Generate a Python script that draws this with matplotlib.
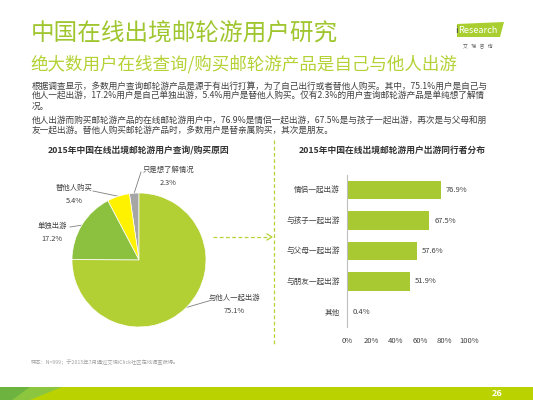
import numpy as np
import matplotlib
matplotlib.use('Agg')
import matplotlib.pyplot as plt
from matplotlib.patches import Polygon

plt.rcParams['font.family'] = ['Noto Sans CJK SC', 'DejaVu Sans']

# ---------------------------------------------------------------
# data
# ---------------------------------------------------------------
pie_labels = ['只是想了解情况', '替他人购买', '单独出游', '与他人一起出游']
pie_values = [2.3, 5.4, 17.2, 75.1]
pie_colors = ['#a6a6a6', '#fff200', '#8cc13f', '#b2cf33']

bar_labels = ['情侣一起出游', '与孩子一起出游', '与父母一起出游', '与朋友一起出游', '其他']
bar_values = [76.9, 67.5, 57.6, 51.9, 0.4]
x_ticks = [0, 20, 40, 60, 80, 100]

title = '中国在线出境邮轮游用户研究'
subtitle = '绝大数用户在线查询/购买邮轮游产品是自己与他人出游'
body = ['根据调查显示，多数用户查询邮轮游产品是源于有出行打算，为了自己出行或者替他人购买。其中，75.1%用户是自己与',
        '他人一起出游，17.2%用户是自己单独出游，5.4%用户是替他人购买。仅有2.3%的用户查询邮轮游产品是单纯想了解情',
        '况。',
        '他人出游而购买邮轮游产品的在线邮轮游用户中，76.9%是情侣一起出游，67.5%是与孩子一起出游，再次是与父母和朋',
        '友一起出游。替他人购买邮轮游产品时，多数用户是替亲属购买，其次是朋友。']
pie_title = '2015年中国在线出境邮轮游用户查询/购买原因'
bar_title = '2015年中国在线出境邮轮游用户出游同行者分布'
note = '样本：N=999；于2015年7月通过艾瑞iClick社区在线调查获得。'

W, H = 533, 400
txt = '#404040'

fig = plt.figure(figsize=(W / 100, H / 100), dpi=100)
fig.patch.set_facecolor('white')

def box(x0, y0, x1, y1):
    # pixel box (top-left origin) -> figure fraction rect
    return [x0 / W, 1 - y1 / H, (x1 - x0) / W, (y1 - y0) / H]

# background axes in pixel coordinates
bg = fig.add_axes([0, 0, 1, 1])
bg.set_xlim(0, W)
bg.set_ylim(H, 0)
bg.axis('off')

bg.text(31, 34, title, fontsize=17, color='#9fc62f', va='center', ha='left')
bg.text(30, 64, subtitle, fontsize=12.6, color='#b3d235', va='center', ha='left')
for y, line in zip([86, 96, 106, 120, 130], body):
    bg.text(32, y, line, fontsize=6.25, color=txt, va='center', ha='left')

# logo
bg.add_patch(Polygon([(457, 24), (504, 22), (500, 37), (457, 37)], closed=True,
                     facecolor='#a8cf2f', edgecolor='none'))
bg.text(455, 30.5, 'i', fontsize=6.8, color='#3a3a3a', va='center', ha='left')
bg.text(458.5, 30.5, 'Research', fontsize=6.6, color='white', va='center', ha='left')
bg.text(478, 47, '艾   瑞   咨   询', fontsize=3.5, color='#606060', va='center', ha='center')

# chart titles
bg.text(139, 151, pie_title, fontsize=6.3, color='#333333', weight='bold', ha='center', va='center')
bg.text(392, 150, bar_title, fontsize=6.3, color='#333333', weight='bold', ha='center', va='center')

# separator and arrow
bg.plot([274, 274], [140, 346], ls=(0, (3, 2)), color='#b5d334', lw=0.9)
bg.plot([213, 270], [237, 237], ls=(0, (3, 2)), color='#b5d334', lw=0.9)
bg.plot([267, 272, 267], [234, 237, 240], color='#b5d334', lw=0.9)

# note and footer
bg.text(31, 362, note, fontsize=3.8, color='#a0a0a0', va='center', ha='left')
bg.add_patch(Polygon([(0, 387), (W, 387), (W, 400), (0, 400)], facecolor='#bad300', edgecolor='none'))
bg.add_patch(Polygon([(0, 387), (62, 387), (30, 400), (0, 400)], facecolor='#8cc63f', edgecolor='none'))
bg.add_patch(Polygon([(0, 387), (30, 387), (12, 400), (0, 400)], facecolor='#6cb33f', edgecolor='none'))
bg.text(497, 393.5, '26', fontsize=6.5, color='white', weight='bold', ha='center', va='center')

# ---------------------------------------------------------------
# pie chart
# ---------------------------------------------------------------
cx, cy, r = 139, 260, 67
axp = fig.add_axes(box(cx - r, cy - r, cx + r, cy + r))
wedges, _ = axp.pie(pie_values, colors=pie_colors, startangle=90, counterclock=True,
                    wedgeprops=dict(edgecolor='white', linewidth=0.5))
axp.set_xlim(-1, 1)
axp.set_ylim(-1, 1)
axp.set_aspect('equal')
axp.axis('off')

# label positions (pixels): line end, text centre x, first line y
label_pos = [((141, 172), 168, 170),
             ((93, 191), 74, 188),
             ((70, 227), 52, 226),
             ((212, 300), 234, 298)]
for w, lab, val, (end, tx, ty) in zip(wedges, pie_labels, pie_values, label_pos):
    ang = np.deg2rad((w.theta1 + w.theta2) / 2)
    sx, sy = cx + r * np.cos(ang), cy - r * np.sin(ang)
    bg.plot([sx, end[0]], [sy, end[1]], color='#7f7f7f', lw=0.6)
    bg.text(tx, ty, lab, fontsize=5.3, color=txt, ha='center', va='center')
    bg.text(tx, ty + 13, '%.1f%%' % val, fontsize=5.3, color=txt, ha='center', va='center')

# ---------------------------------------------------------------
# bar chart
# ---------------------------------------------------------------
axb = fig.add_axes(box(347, 175, 469, 327))
ypos = np.arange(len(bar_values))
axb.barh(ypos, bar_values, height=0.6, color='#a8c932')
axb.set_xlim(0, 100)
axb.set_ylim(len(bar_values) - 0.5, -0.5)
axb.set_yticks(ypos)
axb.set_yticklabels(bar_labels)
axb.set_xticks(x_ticks)
axb.set_xticklabels(['%d%%' % t for t in x_ticks])
axb.tick_params(axis='both', length=0, labelsize=5.5, labelcolor='#404040')
axb.tick_params(axis='x', pad=7)
axb.tick_params(axis='y', pad=5)
for s in ['top', 'right', 'bottom']:
    axb.spines[s].set_visible(False)
axb.spines['left'].set_color('#bfbfbf')
axb.spines['left'].set_linewidth(0.8)
axb.patch.set_alpha(0)
for yv, v in zip(ypos, bar_values):
    axb.text(v + 4, yv, '%.1f%%' % v, fontsize=5.5, color='#404040', va='center', ha='left')

fig.savefig('out.png', dpi=100)
